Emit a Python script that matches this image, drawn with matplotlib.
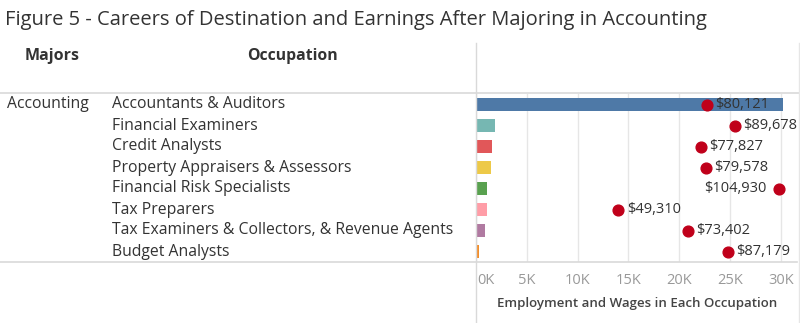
import numpy as np
import matplotlib.pyplot as plt
from matplotlib.lines import Line2D

plt.rcParams['font.family'] = ['Open Sans', 'DejaVu Sans']

major = 'Accounting'
occupations = ['Accountants & Auditors', 'Financial Examiners', 'Credit Analysts',
               'Property Appraisers & Assessors', 'Financial Risk Specialists',
               'Tax Preparers', 'Tax Examiners & Collectors, & Revenue Agents',
               'Budget Analysts']
employment = [30200, 1880, 1580, 1450, 1050, 1050, 920, 280]
wages = [80121, 89678, 77827, 79578, 104930, 49310, 73402, 87179]
bar_colors = ['#4e79a7', '#76b7b2', '#e15759', '#edc948', '#59a14f',
              '#ff9da7', '#b07aa1', '#f28e2b']
ticks = [0, 5000, 10000, 15000, 20000, 25000, 30000]
tick_labels = ['0K', '5K', '10K', '15K', '20K', '25K', '30K']

W, H = 800, 323
fig = plt.figure(figsize=(W / 100, H / 100), dpi=100)

def fx(px):
    return px / W

def fy(py):
    return 1 - py / H

# pane for the bars, placed in pixel units
x0, x1, y0, y1 = 476, 797, 94, 262
ax = fig.add_axes([fx(x0), fy(y1), fx(x1 - x0), (y1 - y0) / H])
emp_max = 31600
ax.set_xlim(0, emp_max)
n = len(occupations)
ax.set_ylim(n - 0.5, -0.5)
ypos = np.arange(n)
ax.barh(ypos, employment, height=0.65, color=bar_colors, zorder=2)
ax.set_xticks(ticks)
ax.xaxis.grid(True, color='#e6e6e6', linewidth=1, zorder=0)
ax.tick_params(axis='x', length=0, labelbottom=False)
ax.set_yticks([])
for s in ax.spines.values():
    s.set_visible(False)

# wages share the pane on their own scale
ax2 = ax.twiny()
ax2.set_xlim(0, emp_max * 3.52)
ax2.set_ylim(n - 0.5, -0.5)
ax2.axis('off')
ax2.scatter(wages, ypos, s=60, color='#c0001a', zorder=3)
for w, y in zip(wages, ypos):
    if w > 100000:
        ax2.annotate(f'${w:,}', (w, y), xytext=(-9, 0), textcoords='offset points',
                     ha='right', va='center', fontsize=10.5, color='#333333')
    else:
        ax2.annotate(f'${w:,}', (w, y), xytext=(6, 0), textcoords='offset points',
                     ha='left', va='center', fontsize=10.5, color='#333333')

# tick labels and axis title under the pane
for i, (t, lab) in enumerate(zip(ticks, tick_labels)):
    xp = x0 + t / emp_max * (x1 - x0)
    if i == 0:
        fig.text(fx(xp + 1), fy(280), lab, ha='left', va='center', fontsize=10.5, color='#999999')
    else:
        fig.text(fx(xp), fy(280), lab, ha='center', va='center', fontsize=10.5, color='#999999')
fig.text(fx(637), fy(304), 'Employment and Wages in Each Occupation', ha='center',
         va='center', fontsize=9.5, color='#444444', fontweight='semibold')

# title and column headers
fig.text(fx(5), fy(20), 'Figure 5 - Careers of Destination and Earnings After Majoring in Accounting',
         ha='left', va='center', fontsize=14.5, color='#333333')
fig.text(fx(25), fy(56), 'Majors', ha='left', va='center', fontsize=11.5,
         fontweight='bold', color='#333333')
fig.text(fx(247), fy(56), 'Occupation', ha='left', va='center', fontsize=11.3,
         fontweight='bold', color='#333333')

# row labels
row_h = (y1 - y0) / n
fig.text(fx(7), fy(y0 + row_h / 2), major, ha='left', va='center', fontsize=11.3, color='#333333')
for i, occ in enumerate(occupations):
    fig.text(fx(112), fy(y0 + row_h * (i + 0.5)), occ, ha='left', va='center',
             fontsize=11.3, color='#333333')

# separator lines
fig.add_artist(Line2D([0, 1], [fy(93), fy(93)], color='#d9d9d9', linewidth=1.2))
fig.add_artist(Line2D([0, fx(x1)], [fy(262), fy(262)], color='#d9d9d9', linewidth=1.2))
fig.add_artist(Line2D([fx(476), fx(476)], [fy(43), 0], color='#d9d9d9', linewidth=1))
fig.add_artist(Line2D([fx(799), fx(799)], [fy(43), 0], color='#e6e6e6', linewidth=1))

fig.savefig('out.png', dpi=100)
